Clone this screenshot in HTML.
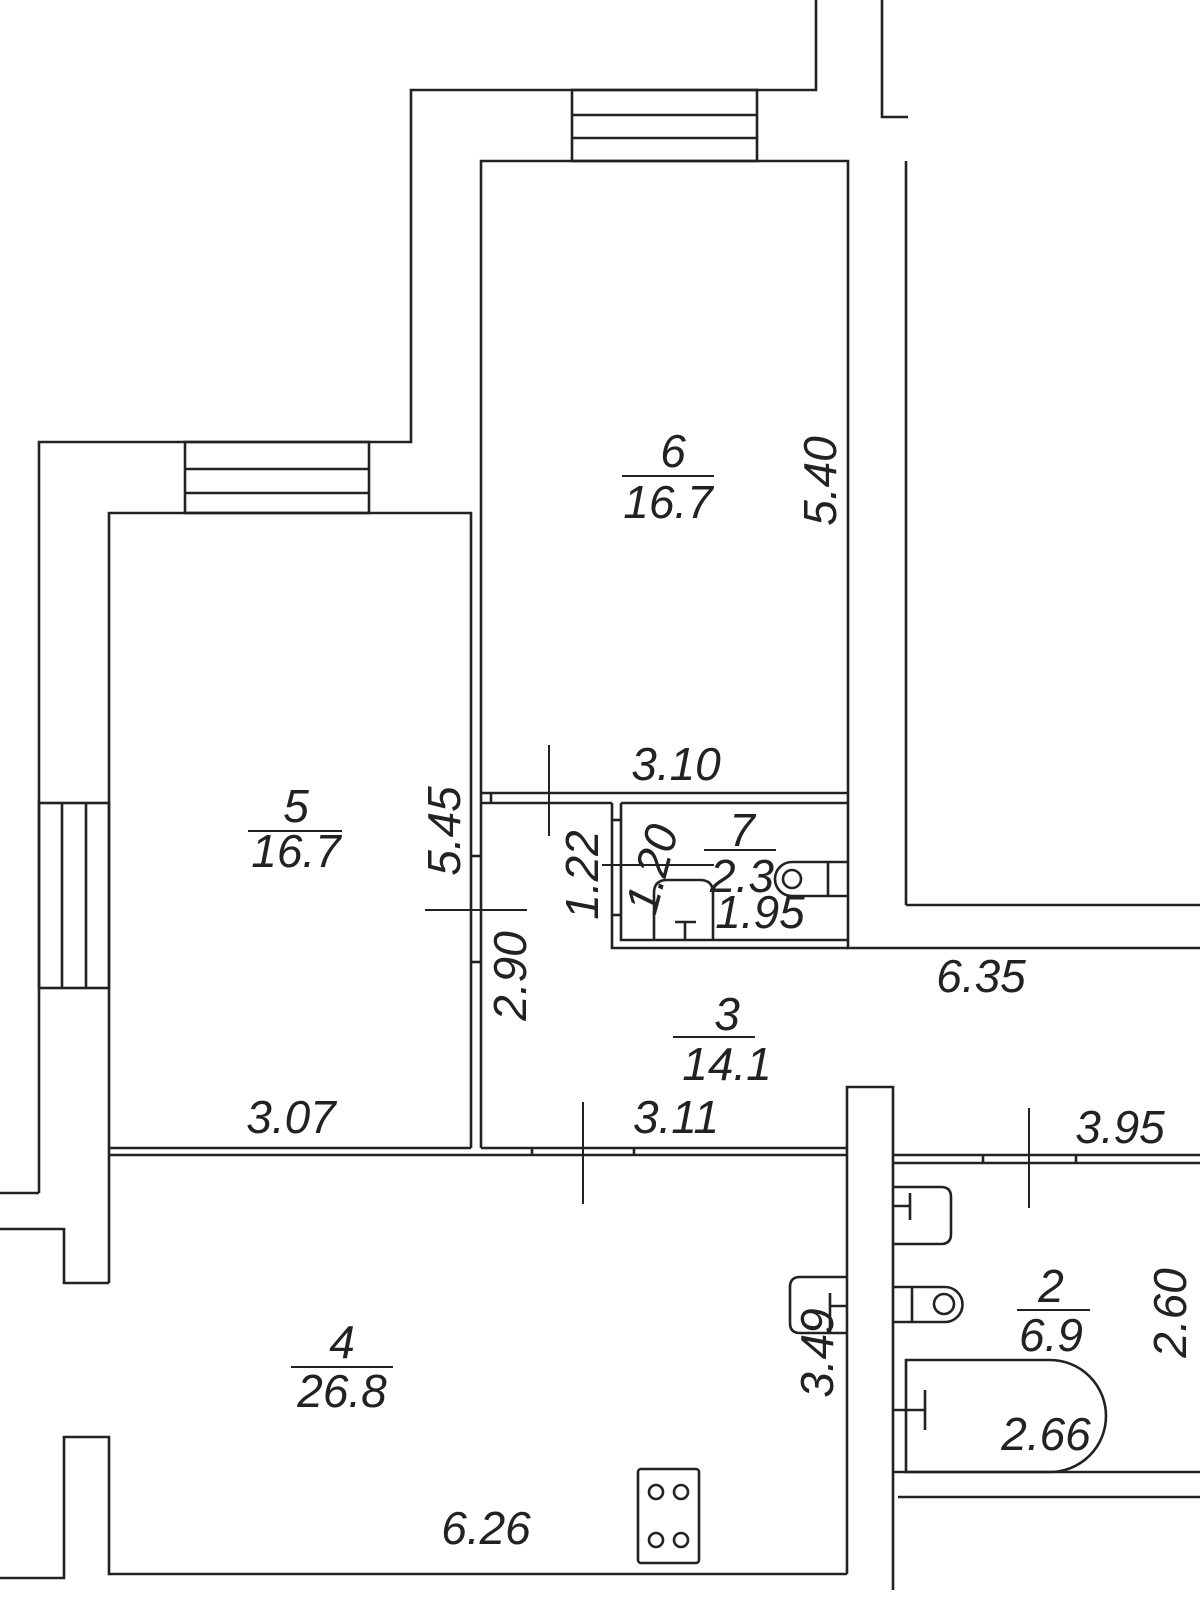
<!DOCTYPE html>
<html><head><meta charset="utf-8"><style>
html,body{margin:0;padding:0;background:#fff;}
svg{display:block;}
text{font-family:"Liberation Sans",sans-serif;font-style:italic;font-size:46px;fill:#222;text-anchor:middle;}
</style></head><body>
<svg width="1200" height="1600" viewBox="0 0 1200 1600" xmlns="http://www.w3.org/2000/svg">
<g fill="none" stroke="#222" stroke-width="2.6">
<polyline points="39,1193 39,442 411,442 411,90 816,90 816,0"/>
<polyline points="882,0 882,117 908,117"/>
<line x1="0" y1="1193" x2="39" y2="1193"/>
<rect x="572" y="90" width="185" height="71"/>
<line x1="572" y1="115" x2="757" y2="115"/><line x1="572" y1="138" x2="757" y2="138"/>
<rect x="185" y="442" width="184" height="71"/>
<line x1="185" y1="469" x2="369" y2="469"/><line x1="185" y1="493" x2="369" y2="493"/>
<rect x="39" y="803" width="70" height="185"/>
<line x1="62" y1="803" x2="62" y2="988"/><line x1="86" y1="803" x2="86" y2="988"/>
<polyline points="109,1283 109,513 471,513 471,1148"/>
<polyline points="481,1148 481,161 848,161 848,948 1200,948"/>
<line x1="906" y1="161" x2="906" y2="905"/>
<line x1="906" y1="905" x2="1200" y2="905"/>
<line x1="481" y1="793" x2="848" y2="793"/>
<line x1="481" y1="803" x2="612" y2="803"/>
<line x1="621" y1="803" x2="848" y2="803"/>
<line x1="491" y1="793" x2="491" y2="803"/>
<polyline points="612,803 612,948 848,948"/>
<polyline points="621,803 621,940 848,940"/>
<line x1="612" y1="820" x2="621" y2="820"/><line x1="612" y1="915" x2="621" y2="915"/>
<line x1="471" y1="856" x2="481" y2="856"/><line x1="471" y1="962" x2="481" y2="962"/>
<line x1="109" y1="1148" x2="471" y2="1148"/>
<line x1="481" y1="1148" x2="847" y2="1148"/>
<line x1="109" y1="1155" x2="847" y2="1155"/>
<line x1="532" y1="1148" x2="532" y2="1155"/><line x1="634" y1="1148" x2="634" y2="1155"/>
<polyline points="0,1229 64,1229 64,1283 109,1283"/>
<polyline points="0,1578 64,1578 64,1437 109,1437 109,1574 847,1574"/>
<polyline points="847,1574 847,1087 893,1087 893,1590"/>
<line x1="893" y1="1155" x2="1200" y2="1155"/>
<line x1="893" y1="1163" x2="1200" y2="1163"/>
<line x1="983" y1="1155" x2="983" y2="1163"/><line x1="1076" y1="1155" x2="1076" y2="1163"/>
<line x1="893" y1="1472" x2="1200" y2="1472"/>
<line x1="898" y1="1497" x2="1200" y2="1497"/>
<path d="M893,1187 H941 Q951,1187 951,1197 V1234 Q951,1244 941,1244 H893"/>
<line x1="893" y1="1206" x2="910" y2="1206"/><line x1="910" y1="1193" x2="910" y2="1220"/>
<path d="M893,1287 H945 A17.5,17.5 0 0 1 945,1322 H893"/>
<line x1="912" y1="1287" x2="912" y2="1322"/>
<circle cx="944" cy="1304" r="10"/>
<path d="M906,1360 H1050 A56,56 0 0 1 1050,1472 H906 Z"/>
<line x1="893" y1="1410" x2="925" y2="1410"/><line x1="925" y1="1390" x2="925" y2="1430"/>
<path d="M847,1277 H800 Q790,1277 790,1287 V1323 Q790,1333 800,1333 H847"/>
<line x1="847" y1="1306" x2="830" y2="1306"/><line x1="830" y1="1293" x2="830" y2="1333"/>
<path d="M848,862 H792 A17,17 0 0 0 792,896 H848"/>
<line x1="828" y1="862" x2="828" y2="896"/>
<circle cx="792" cy="879" r="9"/>
<path d="M654,940 V893 Q654,880 667,880 H700 Q713,880 713,893 V940"/>
<line x1="675" y1="922" x2="696" y2="922"/><line x1="685" y1="922" x2="685" y2="940"/>
<rect x="638" y="1469" width="61" height="94" rx="3"/>
<circle cx="656" cy="1492" r="7"/><circle cx="681" cy="1492" r="7"/>
<circle cx="656" cy="1540" r="7"/><circle cx="681" cy="1540" r="7"/>
</g>
<g stroke="#222" stroke-width="2">
<line x1="549" y1="745" x2="549" y2="836"/>
<line x1="602" y1="865" x2="714" y2="865"/>
<line x1="425" y1="910" x2="527" y2="910"/>
<line x1="583" y1="1102" x2="583" y2="1204"/>
<line x1="1029" y1="1108" x2="1029" y2="1208"/>
<line x1="622" y1="476" x2="714" y2="476"/>
<line x1="248" y1="831" x2="342" y2="831"/>
<line x1="704" y1="850" x2="776" y2="850"/>
<line x1="673" y1="1037" x2="755" y2="1037"/>
<line x1="1017" y1="1310" x2="1090" y2="1310"/>
<line x1="291" y1="1367" x2="393" y2="1367"/>
</g>
<text x="673" y="467">6</text>
<text x="668" y="518">16.7</text>
<text x="296" y="822">5</text>
<text x="296" y="867">16.7</text>
<text x="742" y="846">7</text>
<text x="742" y="892">2.3</text>
<text x="760" y="928">1.95</text>
<text x="727" y="1030">3</text>
<text x="727" y="1080">14.1</text>
<text x="1051" y="1302">2</text>
<text x="1051" y="1351">6.9</text>
<text x="342" y="1358">4</text>
<text x="342" y="1407">26.8</text>
<text x="676" y="780">3.10</text>
<text x="981" y="992">6.35</text>
<text x="291" y="1133">3.07</text>
<text x="676" y="1133">3.11</text>
<text x="1120" y="1143">3.95</text>
<text x="1046" y="1450">2.66</text>
<text x="486" y="1544">6.26</text>
<text transform="translate(836,481) rotate(-90)">5.40</text>
<text transform="translate(460,831) rotate(-90)">5.45</text>
<text transform="translate(598,875) rotate(-90)">1.22</text>
<text transform="translate(667,873) rotate(-75)">1.20</text>
<text transform="translate(526,976) rotate(-90)">2.90</text>
<text transform="translate(1186,1313) rotate(-90)">2.60</text>
<text transform="translate(833,1353) rotate(-90)">3.49</text>
</svg>
</body></html>
